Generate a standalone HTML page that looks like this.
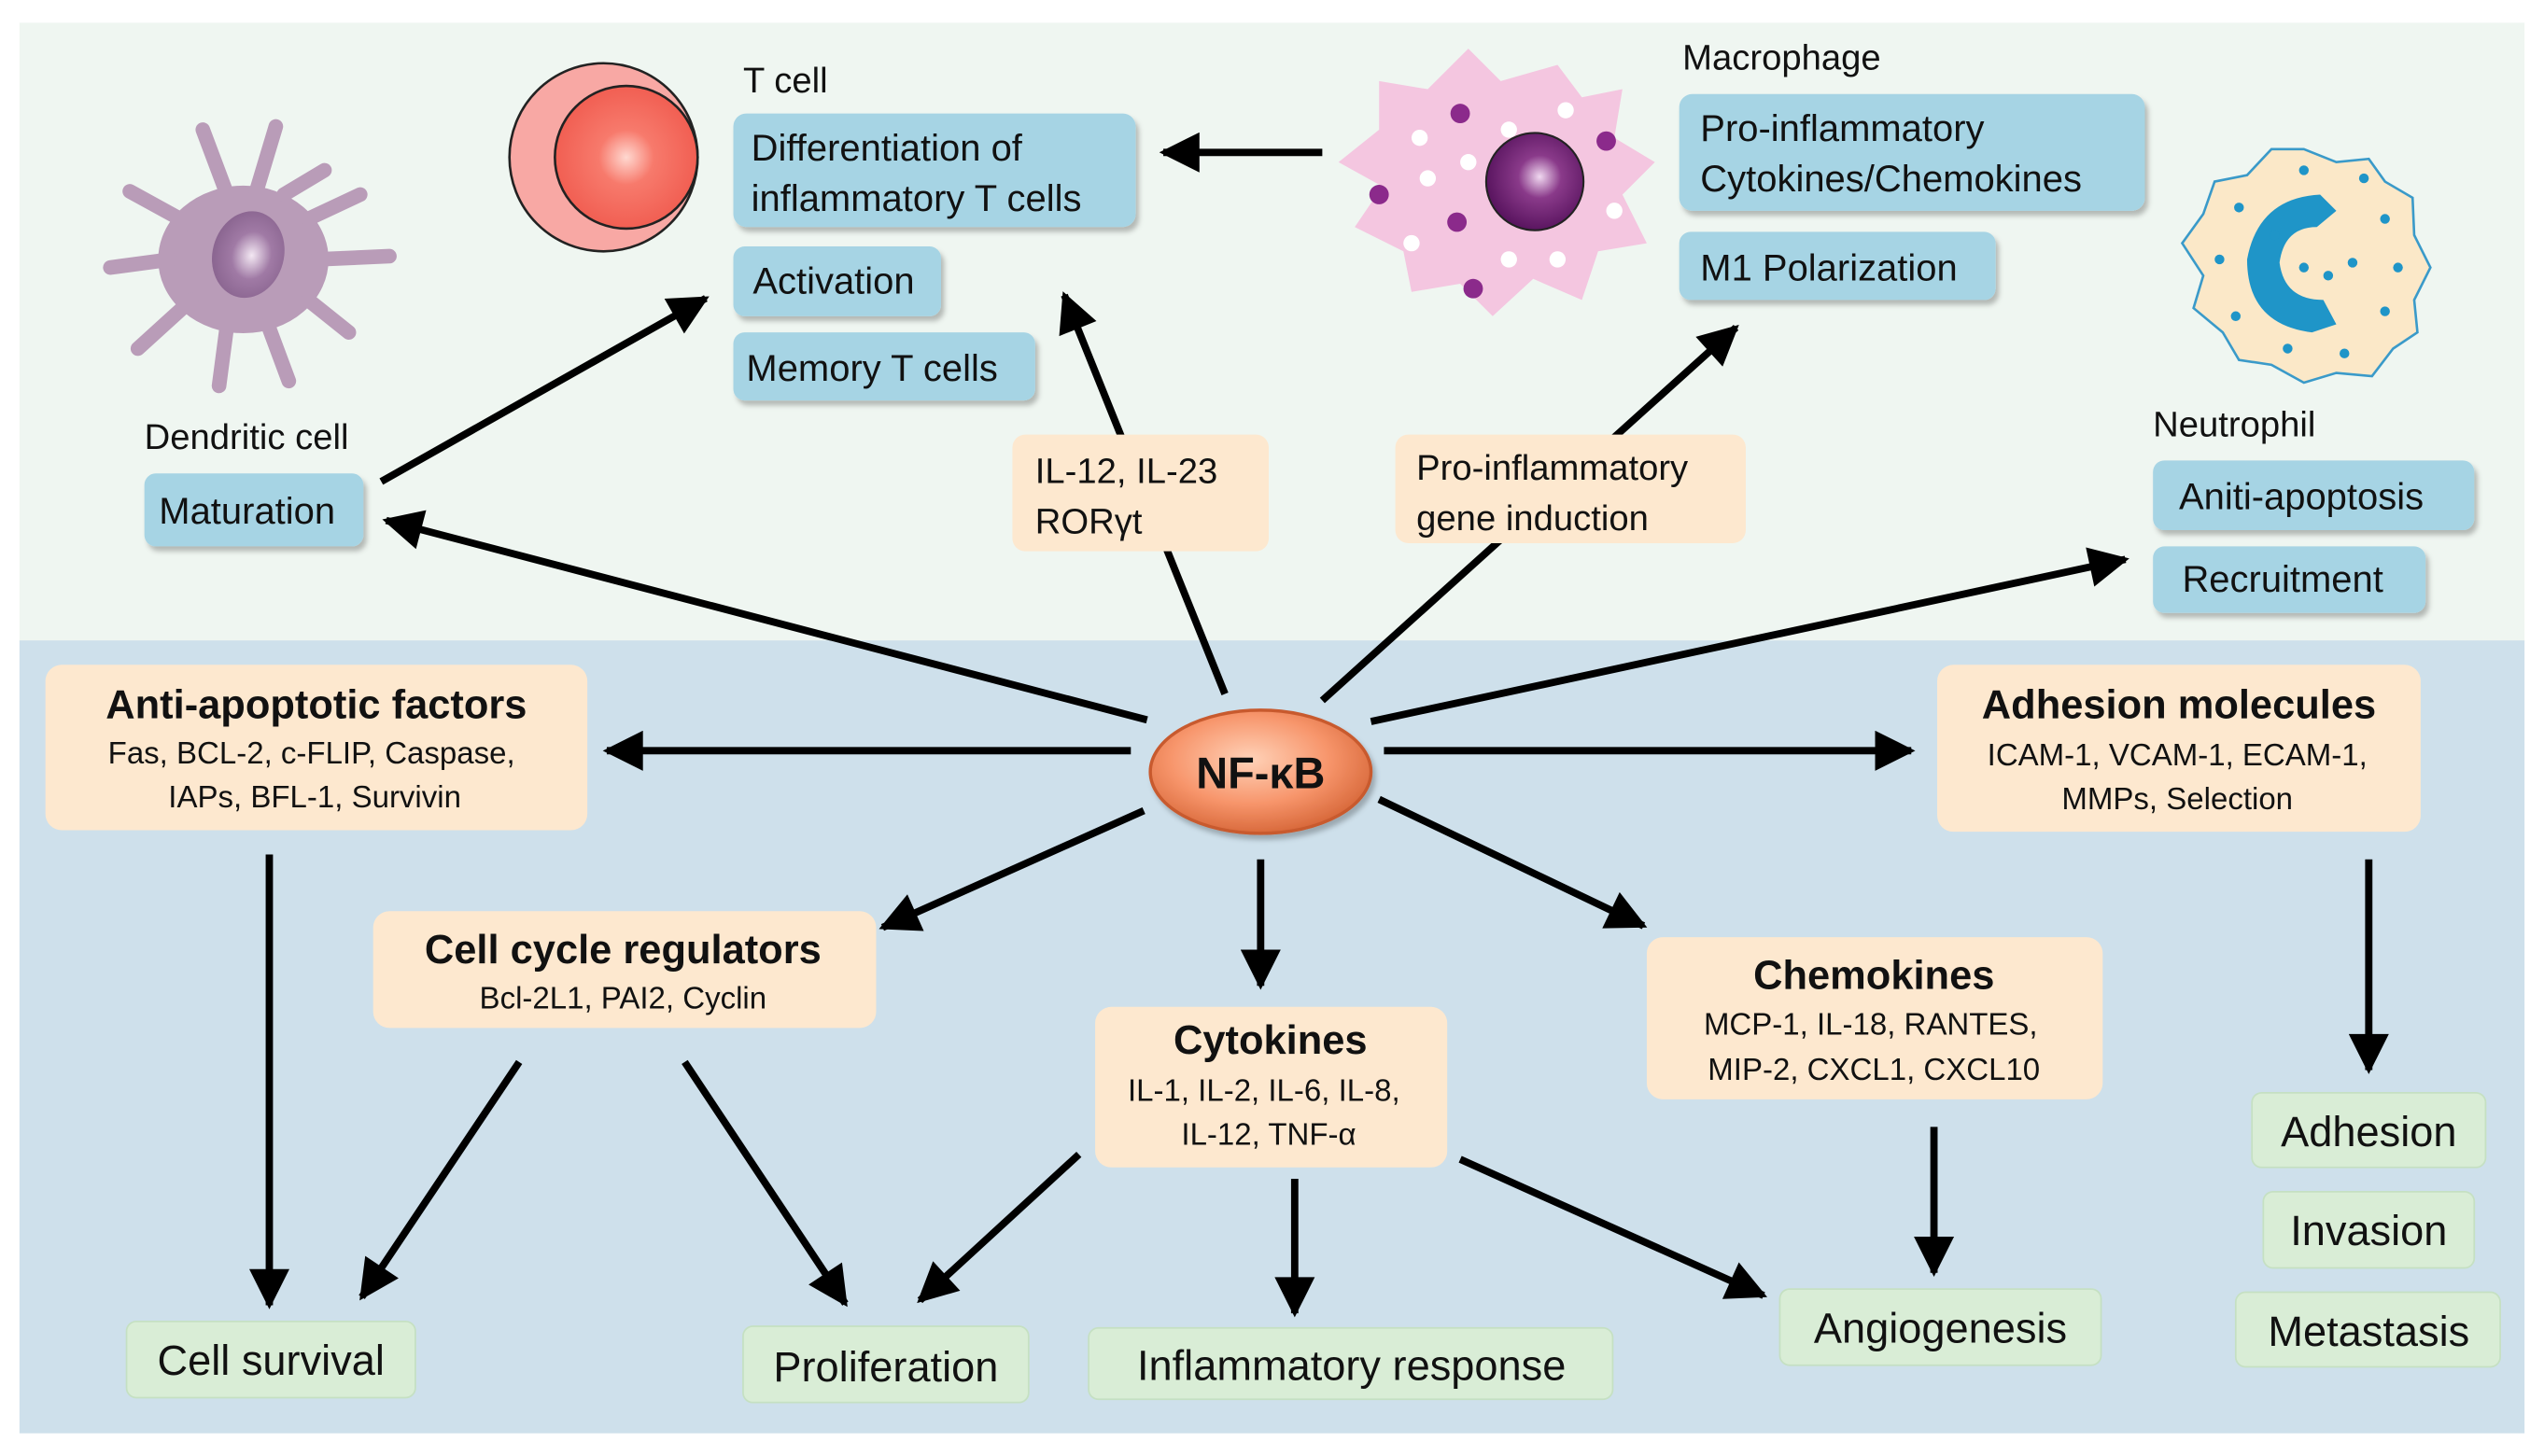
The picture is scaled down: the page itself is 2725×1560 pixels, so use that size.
<!DOCTYPE html>
<html><head><meta charset="utf-8"><style>
html,body{margin:0;padding:0;background:#fff;}
svg{display:block;}
text{font-family:"Liberation Sans",sans-serif;fill:#111;}
</style></head><body>
<svg width="2725" height="1560" viewBox="0 0 1568 898" preserveAspectRatio="none" xmlns="http://www.w3.org/2000/svg">
<defs>
<marker id="ah" viewBox="0 0 10 10" refX="9" refY="5" markerWidth="7" markerHeight="5.5" markerUnits="strokeWidth" orient="auto">
<path d="M0,0 L10,5 L0,10 z" fill="#000"/></marker>
<radialGradient id="nf" cx="45%" cy="40%" r="60%"><stop offset="0" stop-color="#ffd2b8"/><stop offset="0.6" stop-color="#f7956b"/><stop offset="1" stop-color="#d96a3c"/></radialGradient>
<radialGradient id="tc" cx="50%" cy="50%" r="55%"><stop offset="0" stop-color="#ffd8d0"/><stop offset="0.35" stop-color="#f77a6c"/><stop offset="1" stop-color="#f05a4e"/></radialGradient>
<radialGradient id="mn" cx="55%" cy="45%" r="55%"><stop offset="0" stop-color="#f0d8f0"/><stop offset="0.4" stop-color="#8a3a8a"/><stop offset="1" stop-color="#5a1560"/></radialGradient>
<radialGradient id="dn" cx="55%" cy="50%" r="55%"><stop offset="0" stop-color="#f3e8f3"/><stop offset="0.5" stop-color="#a07aa5"/><stop offset="1" stop-color="#8a6590"/></radialGradient>
<filter id="sh" x="-10%" y="-10%" width="130%" height="140%"><feDropShadow dx="2" dy="3" stdDeviation="1.5" flood-color="#000" flood-opacity="0.25"/></filter>
</defs>
<rect x="12" y="14" width="1544" height="382" fill="#eff6f1"/>
<rect x="12" y="395" width="1544" height="489" fill="#cee0eb"/>

<!-- arrows (drawn first so boxes cover them) -->
<g stroke="#000" stroke-width="4.5" fill="none" marker-end="url(#ah)">
<line x1="235" y1="297" x2="435" y2="184"/>
<line x1="707" y1="444" x2="238" y2="321"/>
<line x1="755" y1="428" x2="656" y2="182"/>
<line x1="815" y1="94" x2="717" y2="94"/>
<line x1="815" y1="432" x2="1070" y2="202"/>
<line x1="845" y1="445" x2="1310" y2="345"/>
<line x1="697" y1="463" x2="374" y2="463"/>
<line x1="853" y1="463" x2="1178" y2="463"/>
<line x1="705" y1="500" x2="544" y2="572"/>
<line x1="777" y1="530" x2="777" y2="608"/>
<line x1="850" y1="493" x2="1013" y2="571"/>
<line x1="166" y1="527" x2="166" y2="805"/>
<line x1="320" y1="655" x2="223" y2="800"/>
<line x1="422" y1="655" x2="521" y2="804"/>
<line x1="665" y1="712" x2="567" y2="802"/>
<line x1="798" y1="727" x2="798" y2="810"/>
<line x1="900" y1="715" x2="1087" y2="799"/>
<line x1="1192" y1="695" x2="1192" y2="785"/>
<line x1="1460" y1="530" x2="1460" y2="660"/>
</g>

<!-- Dendritic cell -->
<g fill="#b99cb8" stroke="#b99cb8" stroke-linecap="round">
<ellipse cx="150" cy="160" rx="52" ry="45"/>
<g stroke-width="9" fill="none">
<path d="M140,120 L125,80"/><path d="M158,118 L170,78"/><path d="M120,140 L80,118"/><path d="M105,160 L68,165"/>
<path d="M118,185 L85,215"/><path d="M140,200 L135,238"/><path d="M165,200 L178,235"/><path d="M190,185 L215,205"/>
<path d="M195,160 L240,158"/><path d="M190,135 L222,120"/><path d="M175,120 L200,105"/>
</g></g>
<ellipse cx="153" cy="157" rx="22" ry="27" fill="url(#dn)" transform="rotate(15 153 157)"/>

<!-- T cell -->
<circle cx="372" cy="97" r="58" fill="#f8a8a4" stroke="#222" stroke-width="1.5"/>
<circle cx="386" cy="97" r="44" fill="url(#tc)" stroke="#222" stroke-width="1.5"/>

<!-- Macrophage -->
<path d="M850,50 L880,55 L905,30 L925,50 L960,40 L975,60 L1000,55 L995,85 L1020,100 L1000,120 L1015,150 L985,155 L975,185 L945,172 L920,195 L900,175 L870,180 L865,155 L835,140 L852,115 L825,100 L850,80 Z" fill="#f4c6e0"/>
<circle cx="946" cy="112" r="30" fill="url(#mn)" stroke="#222" stroke-width="1.2"/>
<g fill="#8b2a8b"><circle cx="900" cy="70" r="6"/><circle cx="990" cy="87" r="6"/><circle cx="850" cy="120" r="6"/><circle cx="898" cy="137" r="6"/><circle cx="908" cy="178" r="6"/></g>
<g fill="#fff"><circle cx="875" cy="85" r="5"/><circle cx="930" cy="80" r="5"/><circle cx="965" cy="68" r="5"/><circle cx="880" cy="110" r="5"/><circle cx="870" cy="150" r="5"/><circle cx="930" cy="160" r="5"/><circle cx="960" cy="160" r="5"/><circle cx="995" cy="130" r="5"/><circle cx="905" cy="100" r="5"/></g>

<!-- Neutrophil -->
<path d="M1420,92 L1440,100 L1460,98 L1470,112 L1487,122 L1488,145 L1498,165 L1488,185 L1490,205 L1475,215 L1462,232 L1440,230 L1420,236 L1400,225 L1380,222 L1370,205 L1352,190 L1358,170 L1345,150 L1358,132 L1365,112 L1385,108 L1400,92 Z" fill="#fbe8c8" stroke="#3a9ac9" stroke-width="1.5"/>
<path d="M1430,120 Q1392,122 1385,160 Q1385,200 1425,205 L1440,200 L1432,185 Q1408,185 1405,162 Q1408,140 1428,140 L1440,130 Z" fill="#1f95c8"/>
<g fill="#1f95c8"><circle cx="1420" cy="105" r="3"/><circle cx="1457" cy="110" r="3"/><circle cx="1470" cy="135" r="3"/><circle cx="1478" cy="165" r="3"/><circle cx="1470" cy="192" r="3"/><circle cx="1445" cy="218" r="3"/><circle cx="1410" cy="215" r="3"/><circle cx="1378" cy="195" r="3"/><circle cx="1368" cy="160" r="3"/><circle cx="1380" cy="128" r="3"/><circle cx="1420" cy="165" r="3"/><circle cx="1435" cy="170" r="3"/><circle cx="1450" cy="162" r="3"/><circle cx="1402" cy="145" r="3"/></g>

<!-- labels -->
<g font-size="22">
<text x="458" y="57">T cell</text>
<text x="1037" y="43">Macrophage</text>
<text x="89" y="277">Dendritic cell</text>
<text x="1327" y="269">Neutrophil</text>
</g>

<!-- blue boxes -->
<g fill="#a6d4e4" filter="url(#sh)">
<rect x="452" y="70" width="248" height="70" rx="8"/>
<rect x="452" y="152" width="128" height="43" rx="7"/>
<rect x="452" y="205" width="186" height="42" rx="7"/>
<rect x="89" y="292" width="135" height="45" rx="7"/>
<rect x="1035" y="58" width="287" height="72" rx="8"/>
<rect x="1035" y="143" width="195" height="42" rx="7"/>
<rect x="1327" y="284" width="198" height="43" rx="7"/>
<rect x="1327" y="337" width="168" height="41" rx="7"/>
</g>
<g font-size="23">
<text x="463" y="99">Differentiation of</text>
<text x="463" y="130">inflammatory T cells</text>
<text x="464" y="181">Activation</text>
<text x="460" y="235">Memory T cells</text>
<text x="98" y="323">Maturation</text>
<text x="1048" y="87">Pro-inflammatory</text>
<text x="1048" y="118">Cytokines/Chemokines</text>
<text x="1048" y="173">M1 Polarization</text>
<text x="1343" y="314">Aniti-apoptosis</text>
<text x="1345" y="365">Recruitment</text>
</g>

<!-- peach boxes -->
<g fill="#fde8cf">
<rect x="624" y="268" width="158" height="72" rx="8"/>
<rect x="860" y="268" width="216" height="67" rx="8"/>
<rect x="28" y="410" width="334" height="102" rx="10"/>
<rect x="1194" y="410" width="298" height="103" rx="10"/>
<rect x="230" y="562" width="310" height="72" rx="10"/>
<rect x="675" y="621" width="217" height="99" rx="10"/>
<rect x="1015" y="578" width="281" height="100" rx="10"/>
</g>
<g font-size="22">
<text x="638" y="298">IL-12, IL-23</text>
<text x="638" y="329">RORγt</text>
<text x="873" y="296">Pro-inflammatory</text>
<text x="873" y="327">gene induction</text>
</g>
<g font-weight="bold" font-size="25" text-anchor="middle">
<text x="195" y="443">Anti-apoptotic factors</text>
<text x="1343" y="443">Adhesion molecules</text>
<text x="384" y="594">Cell cycle regulators</text>
<text x="783" y="650">Cytokines</text>
<text x="1155" y="610">Chemokines</text>
</g>
<g font-size="19" text-anchor="middle">
<text x="192" y="471">Fas, BCL-2, c-FLIP, Caspase,</text>
<text x="194" y="498">IAPs, BFL-1, Survivin</text>
<text x="1342" y="472">ICAM-1, VCAM-1, ECAM-1,</text>
<text x="1342" y="499">MMPs, Selection</text>
<text x="384" y="622">Bcl-2L1, PAI2, Cyclin</text>
<text x="779" y="679">IL-1, IL-2, IL-6, IL-8,</text>
<text x="782" y="706">IL-12, TNF-α</text>
<text x="1153" y="638">MCP-1, IL-18, RANTES,</text>
<text x="1155" y="666">MIP-2, CXCL1, CXCL10</text>
</g>

<!-- green boxes -->
<g fill="#d9edd6" stroke="#c5e0c2" stroke-width="1">
<rect x="78" y="815" width="178" height="47" rx="6"/>
<rect x="458" y="818" width="176" height="47" rx="6"/>
<rect x="671" y="819" width="323" height="44" rx="6"/>
<rect x="1097" y="795" width="198" height="47" rx="6"/>
<rect x="1388" y="674" width="144" height="46" rx="6"/>
<rect x="1395" y="735" width="130" height="47" rx="6"/>
<rect x="1378" y="797" width="163" height="46" rx="6"/>
</g>
<g font-size="26" text-anchor="middle">
<text x="167" y="848">Cell survival</text>
<text x="546" y="852">Proliferation</text>
<text x="833" y="851">Inflammatory response</text>
<text x="1196" y="828">Angiogenesis</text>
<text x="1460" y="707">Adhesion</text>
<text x="1460" y="768">Invasion</text>
<text x="1460" y="830">Metastasis</text>
</g>

<!-- NF-kB -->
<ellipse cx="777" cy="476" rx="68" ry="38" fill="url(#nf)" stroke="#c85a2e" stroke-width="2" filter="url(#sh)"/>
<text x="777" y="486" font-size="27" font-weight="bold" text-anchor="middle">NF-κB</text>
</svg>
</body></html>
